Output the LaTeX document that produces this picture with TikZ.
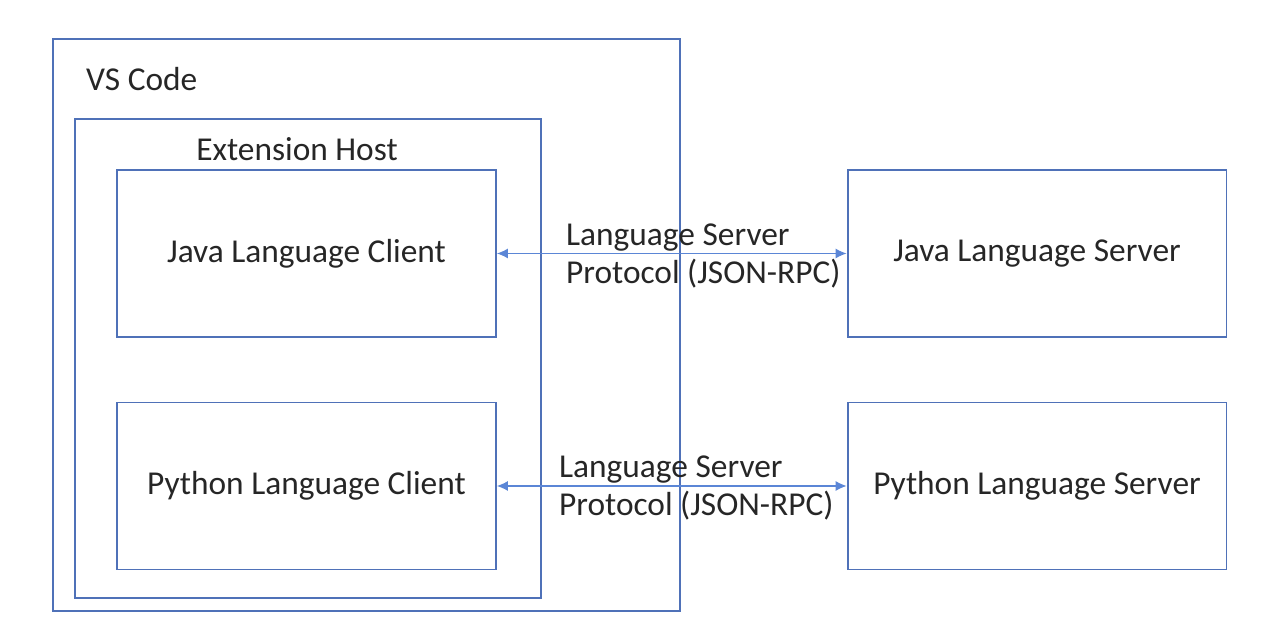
\documentclass[tikz,border=0pt]{standalone}
\usepackage{fontspec}
\setmainfont{Carlito}
\usetikzlibrary{arrows.meta}
\definecolor{boxblue}{HTML}{4F71B8}
\definecolor{arrowblue}{HTML}{5B86D6}
\tikzset{>={Latex[length=2.2mm,width=2mm]}}
\tikzset{
  frame/.style={draw=boxblue, line width=1.1pt, rectangle},
  bigtext/.style={font=\fontsize{19}{22}\selectfont, text=black!85},
  part/.style={frame, bigtext, minimum width=7.58cm, minimum height=3.34cm},
  lsp/.style={bigtext, align=left, anchor=west, font=\fontsize{19}{22}\selectfont},
  link/.style={<->, arrowblue, line width=0.6pt}
}

\begin{document}
\begin{tikzpicture}[x=0.02cm, y=-0.02cm]
    \useasboundingbox (0,0) rectangle (1279,644);
    \node[frame, minimum width=12.54cm, minimum height=11.44cm] (vscode) at (366.5,325) {};
    \node[frame, minimum width=9.32cm, minimum height=9.58cm] (host) at (308,358.5) {};
    \node[bigtext, anchor=west] (vslabel) at (80,79) {VS Code};
    \node[bigtext] (hostlabel) at (297,149) {Extension Host};
    \node[part] (javaclient) at (306.5,253.5) {Java Language Client};
    \node[part] (pyclient) at (306.5,486) {Python Language Client};
    \node[part] (javaserver) at (1037,253.5) {Java Language Server};
    \node[part] (pyserver) at (1037,486) {Python Language Server};
    \draw[link] (javaclient.east) -- (javaserver.west);
    \draw[link] (pyclient.east) -- (pyserver.west);
    \node[lsp] (javaproto) at (560,256) {Language Server\\Protocol (JSON-RPC)};
    \node[lsp] (pyproto) at (553,488) {Language Server\\Protocol (JSON-RPC)};
\end{tikzpicture}
\end{document}
